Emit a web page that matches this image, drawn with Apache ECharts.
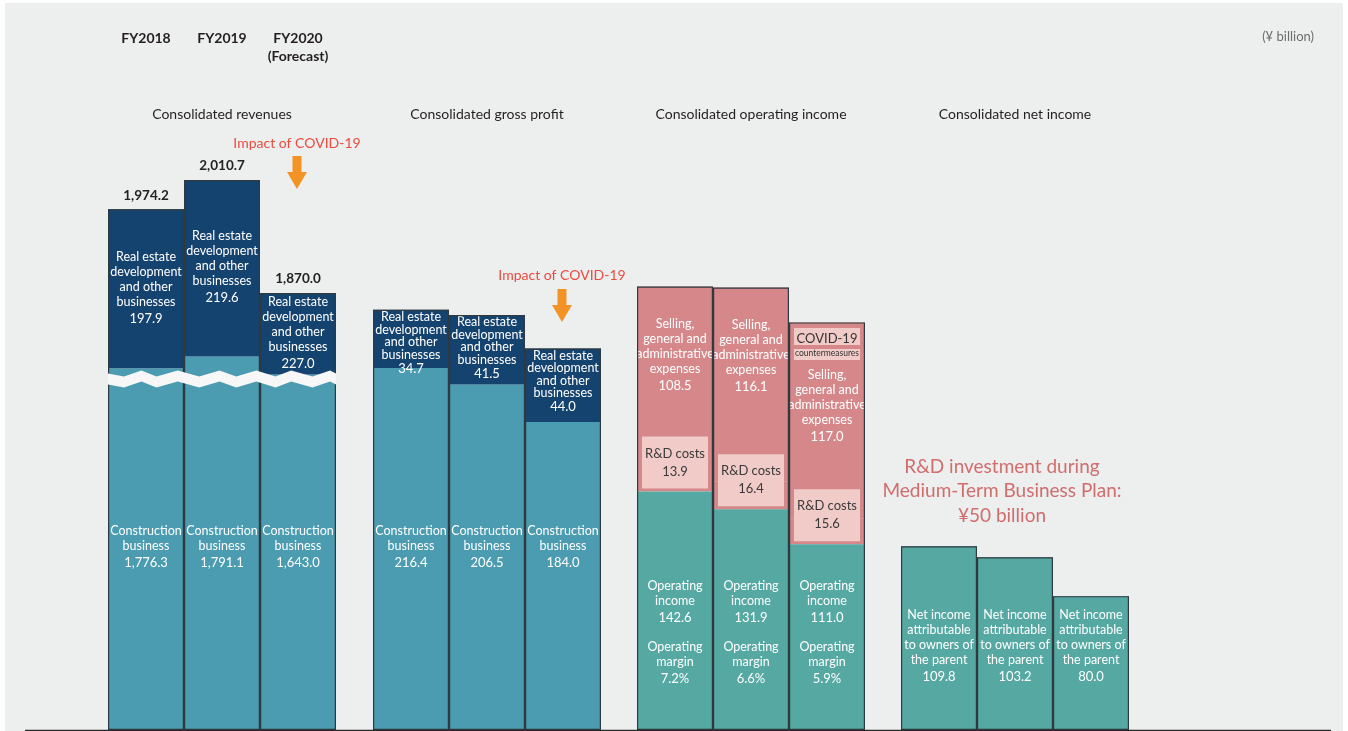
<!DOCTYPE html>
<html>
<head>
<meta charset="utf-8">
<script src="https://cdn.jsdelivr.net/npm/echarts@6.0.0/dist/echarts.min.js"></script>
<style>
  html, body { margin: 0; padding: 0; background: #fff; }
  #panel { position: absolute; left: 5px; top: 3px; width: 1338px; height: 728px; background: #edeeee; }
  #chart { position: absolute; left: 0; top: 0; width: 1348px; height: 731px; }
</style>
</head>
<body>
<div id="panel"></div>
<div id="chart"></div>
<script>
  // ---- data (¥ billion) ----
  var years = ['FY2018', 'FY2019', 'FY2020'];
  var yearNotes = ['', '', '(Forecast)'];
  var groupTitles = ['Consolidated revenues', 'Consolidated gross profit',
    'Consolidated operating income', 'Consolidated net income'];

  var revConstruction = [1776.3, 1791.1, 1643.0];
  var revRealEstate = [197.9, 219.6, 227.0];
  var revTotal = [1974.2, 2010.7, 1870.0];

  var gpConstruction = [216.4, 206.5, 184.0];
  var gpRealEstate = [34.7, 41.5, 44.0];

  var opIncome = [142.6, 131.9, 111.0];
  var opMargin = [7.2, 6.6, 5.9];
  var rdCosts = [13.9, 16.4, 15.6];
  var sgaExpenses = [108.5, 116.1, 117.0];
  var sgaNotes = ['', '', 'COVID-19|countermeasures'];

  var netIncome = [109.8, 103.2, 80.0];

  // ---- styles ----
  var FONT = "Lato, Roboto, sans-serif";
  var NAVY = '#15436f', TEAL = '#4b9bb1', GREEN = '#56a9a2', PINK = '#d5878a', LPINK = '#f0cbc7';
  var EDGE = '#2e3a3f';
  var barLeft = [108, 373, 637, 901];

  function fmt(v) {
    return v.toLocaleString('en-US', {minimumFractionDigits: 1, maximumFractionDigits: 1});
  }
  function add() {
    var arrs = arguments;
    return arrs[0].map(function (x, i) {
      var s = 0;
      for (var k = 0; k < arrs.length; k++) s += arrs[k][i];
      return Math.round(s * 10) / 10;
    });
  }

  var txt = {color: '#fff', fontFamily: FONT, fontSize: 12.5, lineHeight: 15,
    rich: {v: {color: '#fff', fontFamily: FONT, fontSize: 13, lineHeight: 19}}};
  function lbl(pos, dist, head, extra) {
    return Object.assign({
      show: true, position: pos, distance: dist,
      formatter: function (p) { return head + '{v|' + fmt(p.value) + '}'; }
    }, txt, extra || {});
  }

  function seg(gi, stack, data, color, label, z) {
    return {
      type: 'bar', xAxisIndex: gi, yAxisIndex: gi, stack: stack, data: data,
      barCategoryGap: 0, barGap: '-100%', silent: true, z: z || 2,
      itemStyle: {color: color}, label: label
    };
  }
  function outline(gi, data, label) {
    return {
      type: 'bar', xAxisIndex: gi, yAxisIndex: gi, data: data,
      barCategoryGap: 0, barGap: '-100%', silent: true, z: 5,
      itemStyle: {color: 'rgba(0,0,0,0)', borderColor: EDGE, borderWidth: 1.2},
      label: label || {show: false}
    };
  }

  var realEstateHead = 'Real estate\ndevelopment\nand other\nbusinesses\n';

  var series = [
    // consolidated revenues
    seg(0, 'rev', revConstruction, TEAL, lbl('insideBottom', 158, 'Construction\nbusiness\n')),
    seg(0, 'rev', revRealEstate, NAVY, lbl('inside', 0, realEstateHead)),
    outline(0, revTotal, {
      show: true, position: 'top', distance: 7, color: '#222', fontFamily: FONT,
      fontSize: 13.5, fontWeight: 'bold', formatter: function (p) { return fmt(p.value); }
    }),
    // gross profit
    seg(1, 'gp', gpConstruction, TEAL, lbl('insideBottom', 158, 'Construction\nbusiness\n')),
    seg(1, 'gp', gpRealEstate, NAVY, lbl('insideTop', 1, realEstateHead,
      {lineHeight: 12.5, rich: {v: {color: '#fff', fontFamily: FONT, fontSize: 13, lineHeight: 15}}})),
    outline(1, add(gpConstruction, gpRealEstate)),
    // operating income
    seg(2, 'oi', opIncome, GREEN, Object.assign({}, txt, {
      show: true, position: 'insideBottom', distance: 42,
      formatter: function (p) {
        return 'Operating\nincome\n{v|' + fmt(p.value) + '}\n{g| }\nOperating\nmargin\n{v|' +
          opMargin[p.dataIndex].toFixed(1) + '%}';
      },
      rich: {v: txt.rich.v, g: {fontSize: 8, lineHeight: 12}}
    }), 3),
    seg(2, 'oi', rdCosts, PINK, {
      show: true, position: 'insideBottom', distance: 3,
      formatter: function (p) { return 'R&D costs\n' + fmt(p.value); },
      color: '#3a3a3a', fontFamily: FONT, fontSize: 13, lineHeight: 18,
      backgroundColor: LPINK, width: 66, align: 'center', padding: [8, 0, 8, 0]
    }),
    seg(2, 'oi', sgaExpenses.map(function (v, i) {
      return sgaNotes[i] ? {value: v, label: {position: 'insideTop', distance: 3}} : v;
    }), PINK, Object.assign({}, txt, {
      show: true, position: 'insideTop', distance: 30,
      formatter: function (p) {
        var head = '';
        var note = sgaNotes[p.dataIndex];
        if (note) {
          var parts = note.split('|');
          head = '{boxA|' + parts[0] + '}\n{boxB|' + parts[1] + '}\n{g| }\n';
        }
        return head + 'Selling,\ngeneral and\nadministrative\nexpenses\n{v|' + fmt(p.value) + '}';
      },
      rich: {
        v: txt.rich.v,
        g: {fontSize: 6, lineHeight: 6},
        boxA: {width: 66, align: 'center', backgroundColor: LPINK, color: '#333', fontFamily: FONT,
          fontSize: 13, lineHeight: 22, padding: [4, 0, 0, 0]},
        boxB: {width: 66, align: 'center', backgroundColor: LPINK, color: '#333', fontFamily: FONT,
          fontSize: 8.5, lineHeight: 14, padding: [0, 0, 2, 0]}
      }
    })),
    outline(2, add(opIncome, rdCosts, sgaExpenses)),
    // net income
    seg(3, 'ni', netIncome, GREEN, lbl('insideBottom', 44, 'Net income\nattributable\nto owners of\nthe parent\n')),
    outline(3, netIncome)
  ];

  function arrow(cx, top) {
    return {
      type: 'polygon', z: 20,
      shape: {points: [[cx - 4.5, top], [cx + 4.5, top], [cx + 4.5, top + 16], [cx + 10, top + 16],
        [cx, top + 33], [cx - 10, top + 16], [cx - 4.5, top + 16]]},
      style: {fill: '#f39325'}
    };
  }
  function text(x, y, s, style) {
    return {type: 'text', x: x, y: y, z: 20,
      style: Object.assign({text: s, textAlign: 'center', textVerticalAlign: 'middle',
        fill: '#231f20', fontFamily: FONT, fontSize: 14}, style || {})};
  }

  var graphic = [
    {type: 'line', z: 30, shape: {x1: 25, y1: 730.5, x2: 1331, y2: 730.5},
      style: {stroke: '#2a2a2a', lineWidth: 1.5}},
    text(1314, 37, '(¥ billion)', {textAlign: 'right', fill: '#6d6d6d', fontSize: 13}),
    text(297, 143, 'Impact of COVID-19', {fill: '#ec4a3f'}),
    arrow(297, 156),
    text(562, 275, 'Impact of COVID-19', {fill: '#ec4a3f'}),
    arrow(562, 289),
    text(1002, 491, 'R&D investment during\nMedium-Term Business Plan:\n¥50 billion',
      {fill: '#d26d6d', fontSize: 19, lineHeight: 24.5})
  ];
  groupTitles.forEach(function (t, i) {
    graphic.push(text(barLeft[i] + 114, 114, t));
  });

  var chart = echarts.init(document.getElementById('chart'));
  chart.setOption({
    animation: false,
    backgroundColor: 'transparent',
    grid: barLeft.map(function (l, i) {
      return {left: l, width: 228, top: i === 0 ? 180 : 228, bottom: 1};
    }),
    xAxis: barLeft.map(function (l, i) {
      var ax = {type: 'category', gridIndex: i, data: years, show: i === 0,
        axisLine: {show: false}, axisTick: {show: false}};
      if (i === 0) {
        ax.position = 'top';
        ax.offset = 111;
        ax.axisLabel = {interval: 0, margin: 4, color: '#231f20', fontFamily: FONT, fontSize: 14,
          fontWeight: 'bold', lineHeight: 18,
          formatter: function (v, idx) { return v + '\n' + (yearNotes[idx] || ' '); }};
      }
      return ax;
    }),
    yAxis: barLeft.map(function (l, i) {
      var ax = {type: 'value', gridIndex: i, min: 0, max: i === 0 ? 'dataMax' : 300,
        axisLine: {show: false}, axisTick: {show: false}, axisLabel: {show: false},
        splitLine: {show: false}};
      if (i === 0) {
        ax.breaks = [{start: 430, end: 1770, gap: '2%'}];
        ax.breakArea = {show: true, expandOnClick: false, zigzagAmplitude: 3,
          zigzagMinSpan: 14, zigzagMaxSpan: 22,
          itemStyle: {color: '#f7f7f7', borderColor: '#f7f7f7', borderWidth: 0, opacity: 1}};
      }
      return ax;
    }),
    graphic: graphic,
    series: series
  });
</script>
</body>
</html>
